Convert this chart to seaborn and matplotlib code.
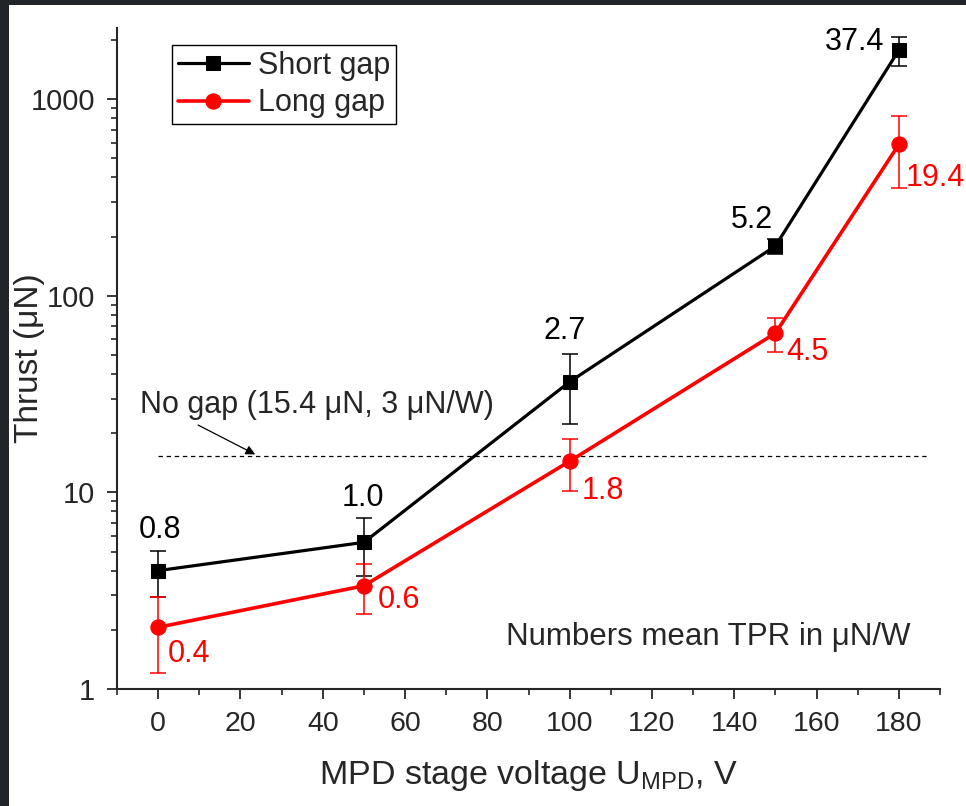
import matplotlib
matplotlib.use("Agg")
import matplotlib.pyplot as plt
from matplotlib.patches import Rectangle
from matplotlib.ticker import MultipleLocator, LogLocator, NullFormatter, FixedLocator
import pandas as pd
import seaborn as sns

# --- data ------------------------------------------------------------------
voltage = [0, 50, 100, 150, 180]
short_thrust = [4.0, 5.57, 36.5, 179, 1773]
short_err = [1.05, 1.8, 14.2, 15, 300]
long_thrust = [2.06, 3.35, 14.4, 64.5, 588]
long_err = [0.86, 0.95, 4.2, 13, 235]
short_tpr = ["0.8", "1.0", "2.7", "5.2", "37.4"]
long_tpr = ["0.4", "0.6", "1.8", "4.5", "19.4"]
no_gap_thrust = 15.4

# label anchors (data coords), short gap: centred above; long gap: right of bar
short_lbl_x = [0.5, 49.7, 98.9, 144.4, 169.3]
short_lbl_y = [6.4, 9.35, 66.1, 242, 1946]
long_lbl_x = [2.4, 53.3, 102.8, 152.7, 181.7]
long_lbl_y = [1.51, 2.83, 10.2, 51.7, 396]

df = pd.DataFrame({
    "voltage": voltage * 2,
    "thrust": short_thrust + long_thrust,
    "series": ["Short gap"] * 5 + ["Long gap"] * 5,
})

sns.set_style("ticks")
plt.rcParams["font.family"] = ["Liberation Sans", "DejaVu Sans"]

fig = plt.figure(figsize=(9.66, 8.06), dpi=100)
fig.patch.set_facecolor("#212529")
fig.patches.append(Rectangle((9 / 966, 0), 1, 801 / 806, transform=fig.transFigure,
                             facecolor="white", edgecolor="none", zorder=-5))
ax = fig.add_axes([117 / 966, 1 - 689 / 806, (940 - 117) / 966, (689 - 28) / 806])
ax.set_facecolor("white")

sns.lineplot(data=df[df.series == "Short gap"], x="voltage", y="thrust",
             color="black", marker="s", markersize=10, linewidth=2.3,
             markeredgecolor="black", label="Short gap", ax=ax, zorder=4)
sns.lineplot(data=df[df.series == "Long gap"], x="voltage", y="thrust",
             color="red", marker="o", markersize=11, linewidth=2.6,
             markeredgecolor="red", label="Long gap", ax=ax, zorder=3)
ax.errorbar(voltage, short_thrust, yerr=short_err, fmt="none", ecolor="black",
            elinewidth=1.1, capsize=5.5, capthick=1.1, zorder=2)
ax.errorbar(voltage, long_thrust, yerr=long_err, fmt="none", ecolor="red",
            elinewidth=1.1, capsize=5.5, capthick=1.1, zorder=2)

ax.hlines(no_gap_thrust, 0, 187, colors="black", linestyles=(0, (3.5, 3)),
          linewidth=0.9, zorder=1)

for x, y, t in zip(short_lbl_x, short_lbl_y, short_tpr):
    ax.text(x, y, t, color="black", fontsize=22, ha="center", va="center")
for x, y, t in zip(long_lbl_x, long_lbl_y, long_tpr):
    ax.text(x, y, t, color="red", fontsize=22, ha="left", va="center")

ax.text(-4.4, 27.8, "No gap (15.4 \u03bcN, 3 \u03bcN/W)", fontsize=22,
        ha="left", va="center")
ax.annotate("", xy=(23.6, 15.6), xytext=(9.7, 22.0),
            arrowprops=dict(arrowstyle="-|>", color="black", lw=0.9,
                            mutation_scale=14, shrinkA=0, shrinkB=0))
ax.text(84.5, 1.84, "Numbers mean TPR in \u03bcN/W", fontsize=22.5,
        ha="left", va="center")

ax.set_yscale("log")
ax.set_ylim(1, 2300)
ax.set_xlim(-10, 190)
ax.yaxis.set_major_locator(FixedLocator([1, 10, 100, 1000]))
ax.set_yticklabels(["1", "10", "100", "1000"])
ax.yaxis.set_minor_locator(LogLocator(base=10, subs=range(2, 10)))
ax.yaxis.set_minor_formatter(NullFormatter())
ax.xaxis.set_minor_locator(MultipleLocator(10))
ax.set_xticks(range(0, 181, 20))

ax.tick_params(axis="both", which="major", direction="out", length=7, width=1.3, pad=9)
ax.tick_params(axis="both", which="minor", direction="out", length=4.5, width=1.2)
for lab in ax.get_yticklabels():
    lab.set_fontsize(21)
for lab in ax.get_xticklabels():
    lab.set_fontsize(20.5)

for side in ["top", "right"]:
    ax.spines[side].set_visible(False)
for side in ["left", "bottom"]:
    ax.spines[side].set_linewidth(1.5)

ax.set_ylabel("Thrust (\u03bcN)", fontsize=24)
ax.yaxis.set_label_coords(-0.088, 0.5)
ax.set_xlabel("MPD stage voltage U$_\\mathregular{MPD}$, V", fontsize=24.5,
              labelpad=15)

leg = ax.legend(loc="upper left", bbox_to_anchor=(0.067, 0.975), fontsize=22,
                frameon=True, fancybox=False, edgecolor="black", framealpha=1,
                handlelength=2.3, borderpad=0.2, labelspacing=0.25,
                handletextpad=0.3, borderaxespad=0)
leg.get_frame().set_linewidth(1.0)

fig.savefig("out.png", dpi=100, facecolor=fig.get_facecolor())
